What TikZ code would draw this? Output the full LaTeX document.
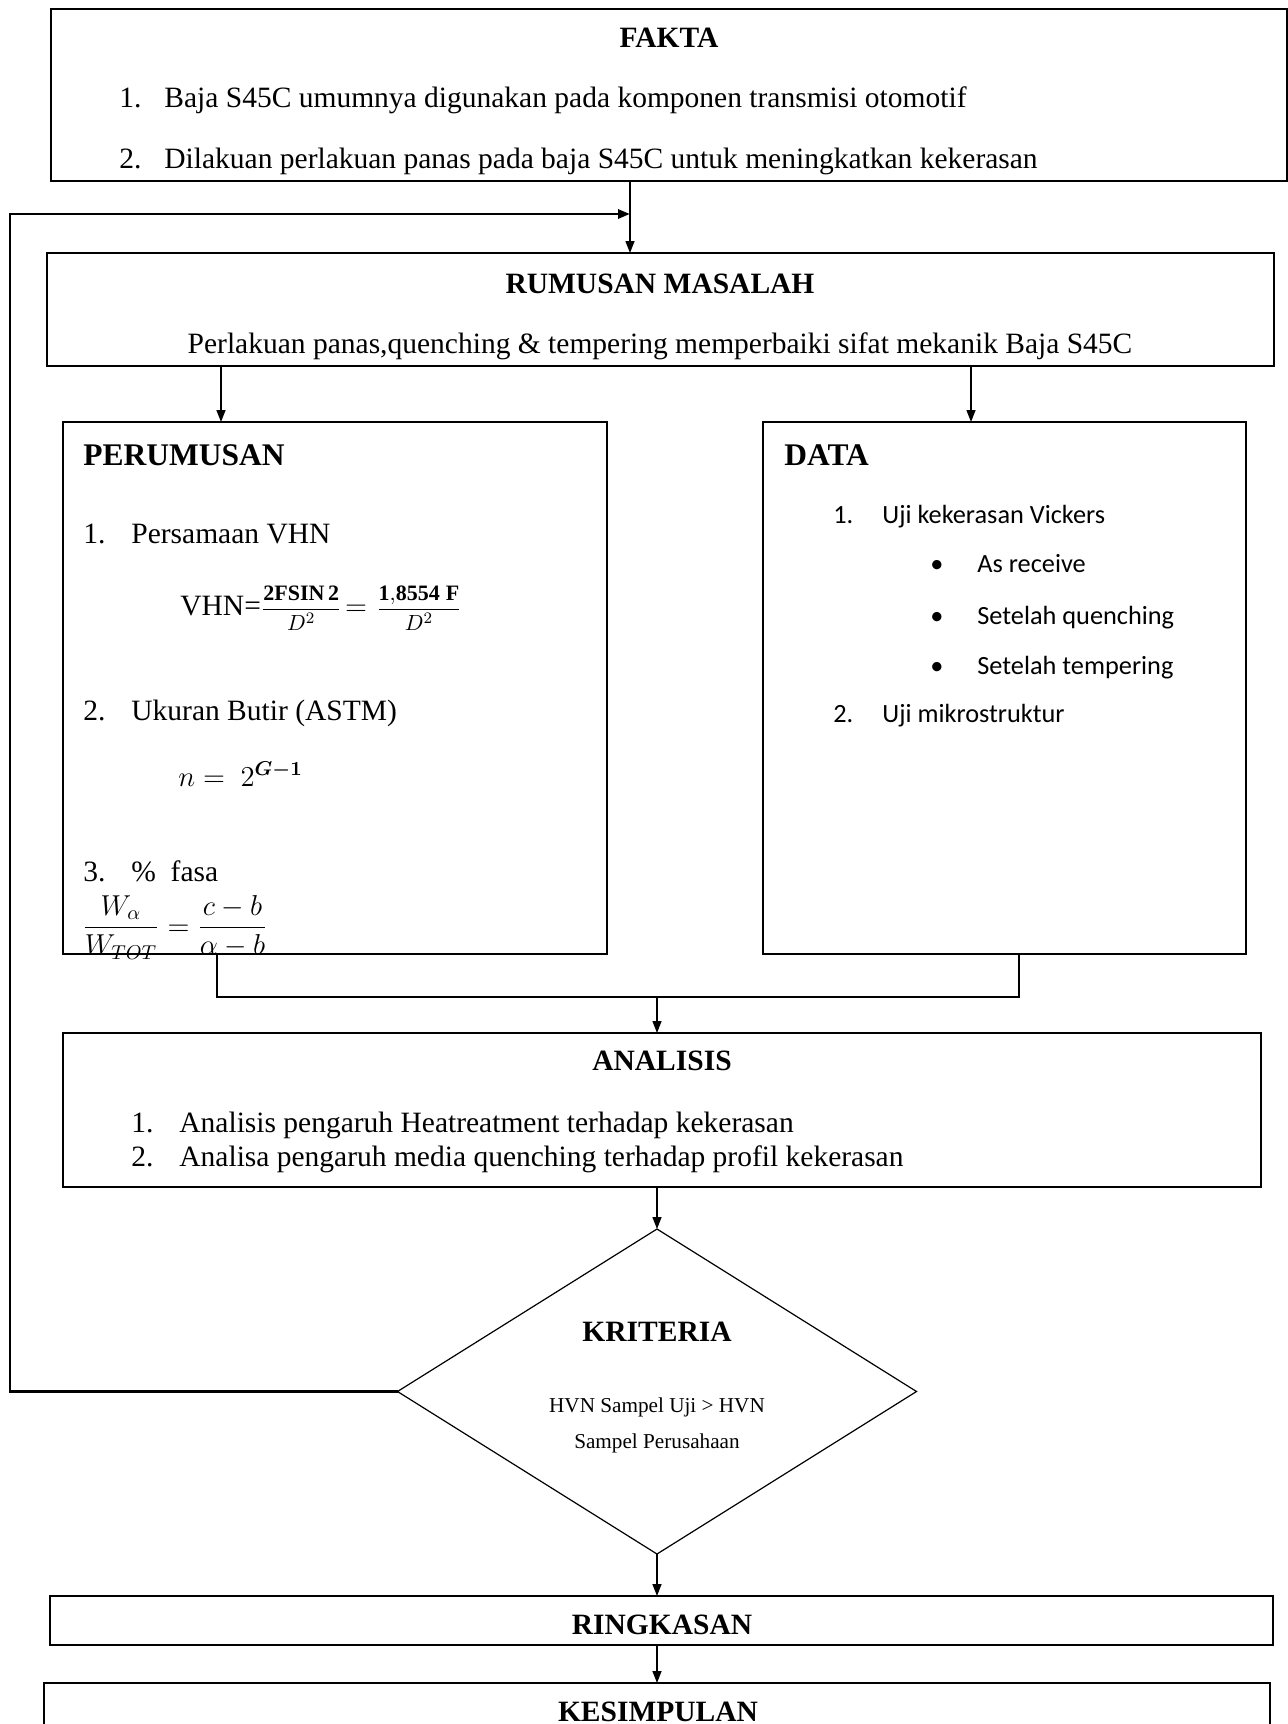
\documentclass[tikz,border=0pt]{standalone}
\usepackage{fontspec}
\usepackage{amsmath,amssymb}
\setmainfont{Liberation Serif}
\newfontfamily\calibri{Carlito}
\usetikzlibrary{arrows.meta,shapes.geometric}

\begin{document}
\begin{tikzpicture}[x=0.5pt,y=-0.5pt,
        font=\fontsize{14.75}{17}\selectfont,
        box/.style={draw,line width=1pt,anchor=north west,inner sep=0pt,outer sep=0pt},
        hd/.style={font=\fontsize{14.75}{17}\selectfont\bfseries,anchor=base,inner sep=0pt},
        bighd/.style={font=\fontsize{15.75}{18}\selectfont\bfseries,anchor=base west,inner sep=0pt},
        txt/.style={anchor=base west,inner sep=0pt},
        arr/.style={-{Triangle[length=6pt,width=4.5pt]},line width=0.7pt}]
        \useasboundingbox (0,0) rectangle (1288,1724);
        \clip (0,0) rectangle (1288,1724);

        \node[box,minimum width=618pt,minimum height=86pt] (fakta) at (51,9) {};
        \node[box,minimum width=613.5pt,minimum height=56.5pt] (rumusan) at (47,253) {};
        \node[box,minimum width=272pt,minimum height=266pt] (perumusan) at (63,422) {};
        \node[box,minimum width=241.5pt,minimum height=266pt] (data) at (763,422) {};
        \node[box,minimum width=599pt,minimum height=77pt] (analisis) at (63,1033) {};
        \node[draw,diamond,line width=0.6pt,inner sep=0pt,outer sep=0pt,
            minimum width=259.5pt,minimum height=162.5pt] (kriteria) at (657,1391.5) {};
        \node[box,minimum width=611.5pt,minimum height=24.5pt] (ringkasan) at (50,1596) {};
        \node[box,minimum width=613pt,minimum height=60pt] (kesimpulan) at (44,1683) {};

        \node[hd] (faktahd) at (669,47) {FAKTA};
        \foreach \n/\y/\t in {1/107/Baja S45C umumnya digunakan pada komponen transmisi otomotif,
            2/168/Dilakuan perlakuan panas pada baja S45C untuk meningkatkan kekerasan}{
        \node[txt] (fn\n) at (119,\y) {\n.};
        \node[txt] (ft\n) at (164,\y) {\t};}

        \node[hd] (rumusanhd) at (660,293) {RUMUSAN MASALAH};
        \node[anchor=base,inner sep=0pt] (rumusantx) at (660,353)
            {Perlakuan panas,quenching \& tempering memperbaiki sifat mekanik Baja S45C};

        \node[bighd] (perumusanhd) at (83,465) {PERUMUSAN};
        \foreach \n/\y/\t in {1/543/Persamaan VHN, 2/720/Ukuran Butir (ASTM), 3/881/\%\ \ fasa}{
        \node[txt] (pn\n) at (83,\y) {\n.};
        \node[txt] (pt\n) at (131,\y) {\t};}
        \node[txt] (vhn) at (180,615) {VHN={\fontsize{11}{13}\selectfont
            $\dfrac{\mathbf{2FSIN\,2}}{D^{2}}$\,{\fontsize{14.75}{17}\selectfont$=$}\,
            $\dfrac{\mathbf{1{,}8554\;F}}{D^{2}}$}};
        \node[txt] (butir) at (178,786) {$n =\ 2^{\boldsymbol{G-1}}$};
        \node[txt] (fasa) at (82,935) {$\dfrac{W_{\alpha}}{W_{TOT}} = \dfrac{c-b}{\alpha-b}$};

        \node[bighd] (datahd) at (784,465) {DATA};
        \foreach \n/\y/\t in {1/523/Uji kekerasan Vickers, 2/722/Uji mikrostruktur}{
        \node[txt,font=\calibri\fontsize{13.15}{15}\selectfont] (dn\n) at (833,\y) {\n.};
        \node[txt,font=\calibri\fontsize{13.15}{15}\selectfont] (dt\n) at (882,\y) {\t};}
        \foreach \n/\y/\t in {1/572/As receive, 2/624/Setelah quenching, 3/674/Setelah tempering}{
        \node[txt,font=\calibri\fontsize{13.15}{15}\selectfont] (db\n) at (930,\y) {•};
        \node[txt,font=\calibri\fontsize{13.15}{15}\selectfont] (dbt\n) at (977,\y) {\t};}

        \node[hd] (analisishd) at (662,1070) {ANALISIS};
        \foreach \n/\y/\t in {1/1132/Analisis pengaruh Heatreatment terhadap kekerasan,
            2/1166/Analisa pengaruh media quenching terhadap profil kekerasan}{
        \node[txt] (an\n) at (131,\y) {\n.};
        \node[txt] (at\n) at (179,\y) {\t};}

        \node[hd] (kriteriahd) at (657,1341) {KRITERIA};
        \node[anchor=base,inner sep=0pt,font=\fontsize{10.6}{12}\selectfont] (krit1) at (657,1412)
            {HVN Sampel Uji > HVN};
        \node[anchor=base,inner sep=0pt,font=\fontsize{10.6}{12}\selectfont] (krit2) at (657,1448)
            {Sampel Perusahaan};

        \node[hd] (ringkasanhd) at (662,1634) {RINGKASAN};
        \node[hd] (kesimpulanhd) at (658,1721) {KESIMPULAN};

        \coordinate (sx) at (630,214);
        \coordinate (lp) at (10,214);
        \coordinate (pl) at (221,0);
        \coordinate (pr) at (971,0);
        \coordinate (bl) at (217,997);
        \coordinate (br) at (1019,997);
        \coordinate (jn) at (657,997);

        \draw[arr] (fakta.south -| sx) -- (rumusan.north -| sx);
        \draw[arr,line width=1.4pt] (kriteria.west) -| (lp) -- (sx);
        \draw[arr] (rumusan.south -| pl) -- (perumusan.north -| pl);
        \draw[arr] (rumusan.south -| pr) -- (data.north -| pr);
        \draw[line width=0.7pt] (perumusan.south -| bl) -- (bl) -- (br) -- (data.south -| br);
        \draw[arr] (jn) -- (analisis.north -| jn);
        \draw[arr] (analisis.south -| kriteria.north) -- (kriteria.north);
        \draw[arr] (kriteria.south) -- (ringkasan.north -| kriteria.south);
        \draw[arr] (ringkasan.south -| kriteria.south) -- (kesimpulan.north -| kriteria.south);
\end{tikzpicture}
\end{document}
